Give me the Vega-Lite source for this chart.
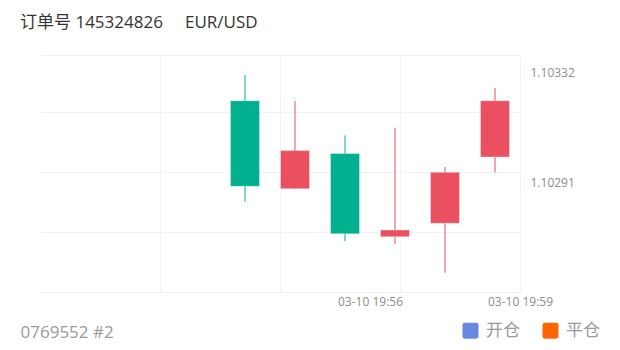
{
  "$schema": "https://vega.github.io/schema/vega-lite/v6.json",
  "width": 480,
  "height": 237,
  "autosize": "none",
  "padding": {"left": 40, "top": 55, "right": 100, "bottom": 58},
  "background": "white",
  "title": {
    "text": "订单号 145324826\u00a0\u00a0\u00a0\u00a0\u00a0EUR/USD",
    "anchor": "start",
    "frame": "group",
    "dx": -20,
    "offset": 10,
    "baseline": "alphabetic",
    "fontSize": 17,
    "fontWeight": "normal",
    "color": "#333333",
    "font": "'Open Sans', 'Noto Sans CJK SC', sans-serif"
  },
  "config": {
    "font": "'Open Sans', 'Noto Sans CJK SC', sans-serif",
    "view": {"stroke": null}
  },
  "datasets": {
    "candles": [
      {"time": "2024-03-10T19:53:30", "open": 1.103213, "close": 1.102894, "high": 1.103309, "low": 1.102837, "dir": "down"},
      {"time": "2024-03-10T19:54:30", "open": 1.102885, "close": 1.103027, "high": 1.103212, "low": 1.102883, "dir": "up"},
      {"time": "2024-03-10T19:55:30", "open": 1.103016, "close": 1.102717, "high": 1.103083, "low": 1.102689, "dir": "down"},
      {"time": "2024-03-10T19:56:30", "open": 1.102706, "close": 1.102731, "high": 1.103112, "low": 1.102679, "dir": "up"},
      {"time": "2024-03-10T19:57:30", "open": 1.102756, "close": 1.102946, "high": 1.102966, "low": 1.102572, "dir": "up"},
      {"time": "2024-03-10T19:58:30", "open": 1.103003, "close": 1.103213, "high": 1.10326, "low": 1.102945, "dir": "up"}
    ],
    "markers": [
      {"type": "开仓"},
      {"type": "平仓"}
    ]
  },
  "layer": [
    {
      "data": {"name": "candles"},
      "mark": {"type": "rule", "strokeWidth": 2, "opacity": 0.5},
      "encoding": {
        "x": {
          "field": "time",
          "type": "temporal",
          "scale": {
            "domain": [
              {"year": 2024, "month": 3, "date": 10, "hours": 19, "minutes": 49, "seconds": 24},
              {"year": 2024, "month": 3, "date": 10, "hours": 19, "minutes": 59, "seconds": 0}
            ],
            "nice": false,
            "padding": 0
          },
          "axis": {
            "orient": "top",
            "values": [
              {"year": 2024, "month": 3, "date": 10, "hours": 19, "minutes": 51, "seconds": 48},
              {"year": 2024, "month": 3, "date": 10, "hours": 19, "minutes": 54, "seconds": 12},
              {"year": 2024, "month": 3, "date": 10, "hours": 19, "minutes": 56, "seconds": 36},
              {"year": 2024, "month": 3, "date": 10, "hours": 19, "minutes": 59, "seconds": 0}
            ],
            "grid": true,
            "gridColor": "#f2f2f2",
            "gridWidth": 1,
            "labels": false,
            "ticks": false,
            "domain": false,
            "title": null
          }
        },
        "y": {
          "field": "low",
          "type": "quantitative",
          "scale": {"domain": [1.1025, 1.1033834], "zero": false, "nice": false, "padding": 0},
          "axis": {
            "orient": "left",
            "values": [1.1025, 1.10272364, 1.10294727, 1.10317091, 1.1033834],
            "grid": true,
            "gridColor": "#f2f2f2",
            "gridWidth": 1,
            "labels": false,
            "ticks": false,
            "domain": false,
            "title": null
          }
        },
        "y2": {"field": "high"},
        "color": {
          "field": "dir",
          "type": "nominal",
          "scale": {"domain": ["up", "down"], "range": ["#eb5060", "#00b08f"]},
          "legend": null
        }
      }
    },
    {
      "data": {"name": "candles"},
      "mark": {"type": "bar", "size": 29, "stroke": "white", "strokeWidth": 1, "strokeOpacity": 0.35},
      "encoding": {
        "x": {
          "field": "time",
          "type": "temporal",
          "axis": {
            "orient": "bottom",
            "values": [
              {"year": 2024, "month": 3, "date": 10, "hours": 19, "minutes": 56, "seconds": 0},
              {"year": 2024, "month": 3, "date": 10, "hours": 19, "minutes": 59, "seconds": 0}
            ],
            "labelExpr": "timeFormat(datum.value, '%m-%d %H:%M')",
            "labelFontSize": 12,
            "labelColor": "#8c8c8c",
            "labelPadding": 4,
            "labelFlush": false,
            "labelOverlap": false,
            "labelBound": false,
            "grid": false,
            "ticks": false,
            "domain": false,
            "title": "0769552 #2",
            "titleX": -20,
            "titleY": 45,
            "titleAlign": "left",
            "titleAnchor": null,
            "titleBaseline": "alphabetic",
            "titleFontSize": 17,
            "titleFontWeight": "normal",
            "titleColor": "#999999"
          }
        },
        "y": {
          "field": "open",
          "type": "quantitative",
          "axis": {
            "orient": "right",
            "values": [1.10332, 1.10291],
            "format": ".5f",
            "labelFontSize": 12,
            "labelColor": "#8c8c8c",
            "labelPadding": 10,
            "labelAlign": "left",
            "grid": false,
            "ticks": false,
            "domain": false,
            "title": null
          }
        },
        "y2": {"field": "close"},
        "color": {
          "field": "dir",
          "type": "nominal",
          "scale": {"domain": ["up", "down"], "range": ["#eb5060", "#00b08f"]},
          "legend": null
        }
      }
    },
    {
      "data": {"name": "markers"},
      "mark": {"type": "point", "filled": true, "opacity": 0},
      "encoding": {
        "fill": {
          "field": "type",
          "type": "nominal",
          "scale": {"domain": ["开仓", "平仓"], "range": ["#6787e0", "#ff6600"]},
          "legend": {
            "orient": "none",
            "legendX": 422,
            "legendY": 267,
            "direction": "horizontal",
            "title": null,
            "symbolType": "M-1,-0.7Q-1,-1,-0.7,-1L0.7,-1Q1,-1,1,-0.7L1,0.7Q1,1,0.7,1L-0.7,1Q-1,1,-1,0.7Z",
            "symbolSize": 256,
            "symbolStrokeWidth": 0,
            "symbolOpacity": 1,
            "labelFontSize": 17,
            "labelColor": "#999999",
            "labelOffset": 7,
            "columnPadding": 22,
            "labelFont": "'Noto Sans CJK SC', sans-serif"
          }
        }
      }
    }
  ],
  "resolve": {"axis": {"x": "independent", "y": "independent"}}
}
